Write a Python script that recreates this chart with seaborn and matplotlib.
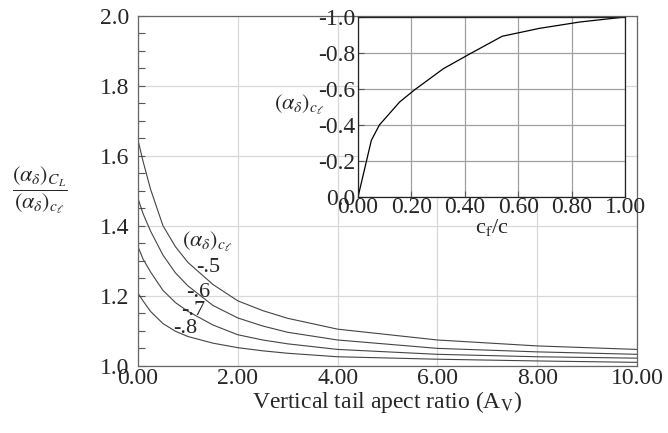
import matplotlib
matplotlib.use("Agg")
import matplotlib.pyplot as plt
import seaborn as sns
import numpy as np
import pandas as pd
from matplotlib.ticker import MultipleLocator, FormatStrFormatter

# ---- data ----
aspect_ratio = [0, 0.1, 0.25, 0.5, 0.75, 1.0, 1.5, 2, 2.5, 3, 4, 6, 8, 10]
curve_m05 = [1.645, 1.585, 1.505, 1.400, 1.340, 1.295, 1.232, 1.185, 1.157, 1.135, 1.104, 1.073, 1.056, 1.046]
curve_m06 = [1.478, 1.435, 1.385, 1.316, 1.265, 1.228, 1.172, 1.136, 1.113, 1.095, 1.073, 1.049, 1.039, 1.032]
curve_m07 = [1.340, 1.305, 1.268, 1.215, 1.180, 1.155, 1.116, 1.088, 1.073, 1.062, 1.046, 1.032, 1.025, 1.021]
curve_m08 = [1.207, 1.185, 1.155, 1.120, 1.098, 1.083, 1.064, 1.051, 1.042, 1.035, 1.025, 1.018, 1.013, 1.009]
curve_labels = ["-.5", "-.6", "-.7", "-.8"]

cf_c = [0, 0.05, 0.08, 0.156, 0.2125, 0.32, 0.42, 0.54, 0.68, 0.83, 1.0]
alpha_cl = [0, -0.315, -0.40, -0.528, -0.596, -0.713, -0.796, -0.893, -0.937, -0.972, -1.0]

sns.set_theme(style="white")
plt.rcParams['font.family'] = ['Liberation Serif', 'DejaVu Serif']
plt.rcParams['mathtext.fontset'] = 'stix'
plt.rcParams['axes.unicode_minus'] = False

fig = plt.figure(figsize=(6.68, 4.33), dpi=100)
ax = fig.add_axes([138/668, 1-365.5/433, (637-138)/668, (365.5-16)/433])

rows = []
for lab, vals in zip(curve_labels, [curve_m05, curve_m06, curve_m07, curve_m08]):
    for x, y in zip(aspect_ratio, vals):
        rows.append({"A": x, "ratio": y, "curve": lab})
df = pd.DataFrame(rows)
sns.lineplot(data=df, x="A", y="ratio", units="curve", estimator=None,
             color="#444444", lw=0.8, ax=ax, legend=False)

ax.set_xlim(0, 10)
ax.set_ylim(1.0, 2.0)
ax.xaxis.set_major_locator(MultipleLocator(2))
ax.xaxis.set_major_formatter(FormatStrFormatter('%.2f'))
ax.yaxis.set_major_locator(MultipleLocator(0.2))
ax.yaxis.set_minor_locator(MultipleLocator(0.05))
ax.yaxis.set_major_formatter(FormatStrFormatter('%.1f'))
ax.grid(True, which='major', color='#d8d8d8', lw=0.9)
ax.tick_params(axis='y', which='both', direction='in', length=5, width=0.8,
               color='#555555', left=True, labelsize=17, pad=6)
ax.tick_params(axis='x', which='both', length=0, labelsize=17, pad=2)
for s in ax.spines.values():
    s.set_color('#666666')
    s.set_linewidth(0.9)
ax.set_xlabel(r'Vertical tail apect ratio (A$_\mathrm{V}$)', fontsize=17, labelpad=0)
ax.set_ylabel('')
fig.text(12/668, 1-190/433,
         r'$\dfrac{(\alpha_\delta)_{C_L}}{(\alpha_\delta)_{c_\ell}}$',
         fontsize=16, ha='left', va='center')

ax.text(1.4, 1.353, r'$(\alpha_\delta)_{c_\ell}$', fontsize=16, ha='center', va='center')
for lab, (tx, ty) in zip(curve_labels, [(1.4, 1.279), (1.2, 1.21), (1.1, 1.158), (0.95, 1.107)]):
    ax.text(tx, ty, lab, fontsize=16, ha='center', va='center')

# inset
axi = fig.add_axes([358/668, 1-197/433, (625-358)/668, (197-17)/433])
axi.set_facecolor('white')
sns.lineplot(x=cf_c, y=alpha_cl, color='black', lw=0.9, ax=axi)
axi.set_xlim(0, 1)
axi.set_ylim(0, -1.0)
axi.xaxis.set_major_locator(MultipleLocator(0.2))
axi.xaxis.set_minor_locator(MultipleLocator(0.05))
axi.yaxis.set_major_locator(MultipleLocator(0.2))
axi.yaxis.set_minor_locator(MultipleLocator(0.05))
axi.xaxis.set_major_formatter(FormatStrFormatter('%.2f'))
axi.yaxis.set_major_formatter(FormatStrFormatter('%.1f'))
axi.grid(True, which='major', color='#a0a0a0', lw=0.9)
axi.tick_params(axis='both', which='both', direction='in', length=4, width=0.8,
                color='#555555', labelsize=17, pad=2)
axi.tick_params(axis='y', left=True)
axi.tick_params(axis='x', bottom=True, pad=0)
for s in axi.spines.values():
    s.set_color('#222222')
    s.set_linewidth(0.9)
axi.set_xlabel(r'c$_\mathrm{f}$/c', fontsize=16, labelpad=-1)
axi.set_ylabel('')
fig.text(299/668, 1-105/433, r'$(\alpha_\delta)_{c_\ell}$', fontsize=16, ha='center', va='center')

fig.savefig('out.png', dpi=100)
